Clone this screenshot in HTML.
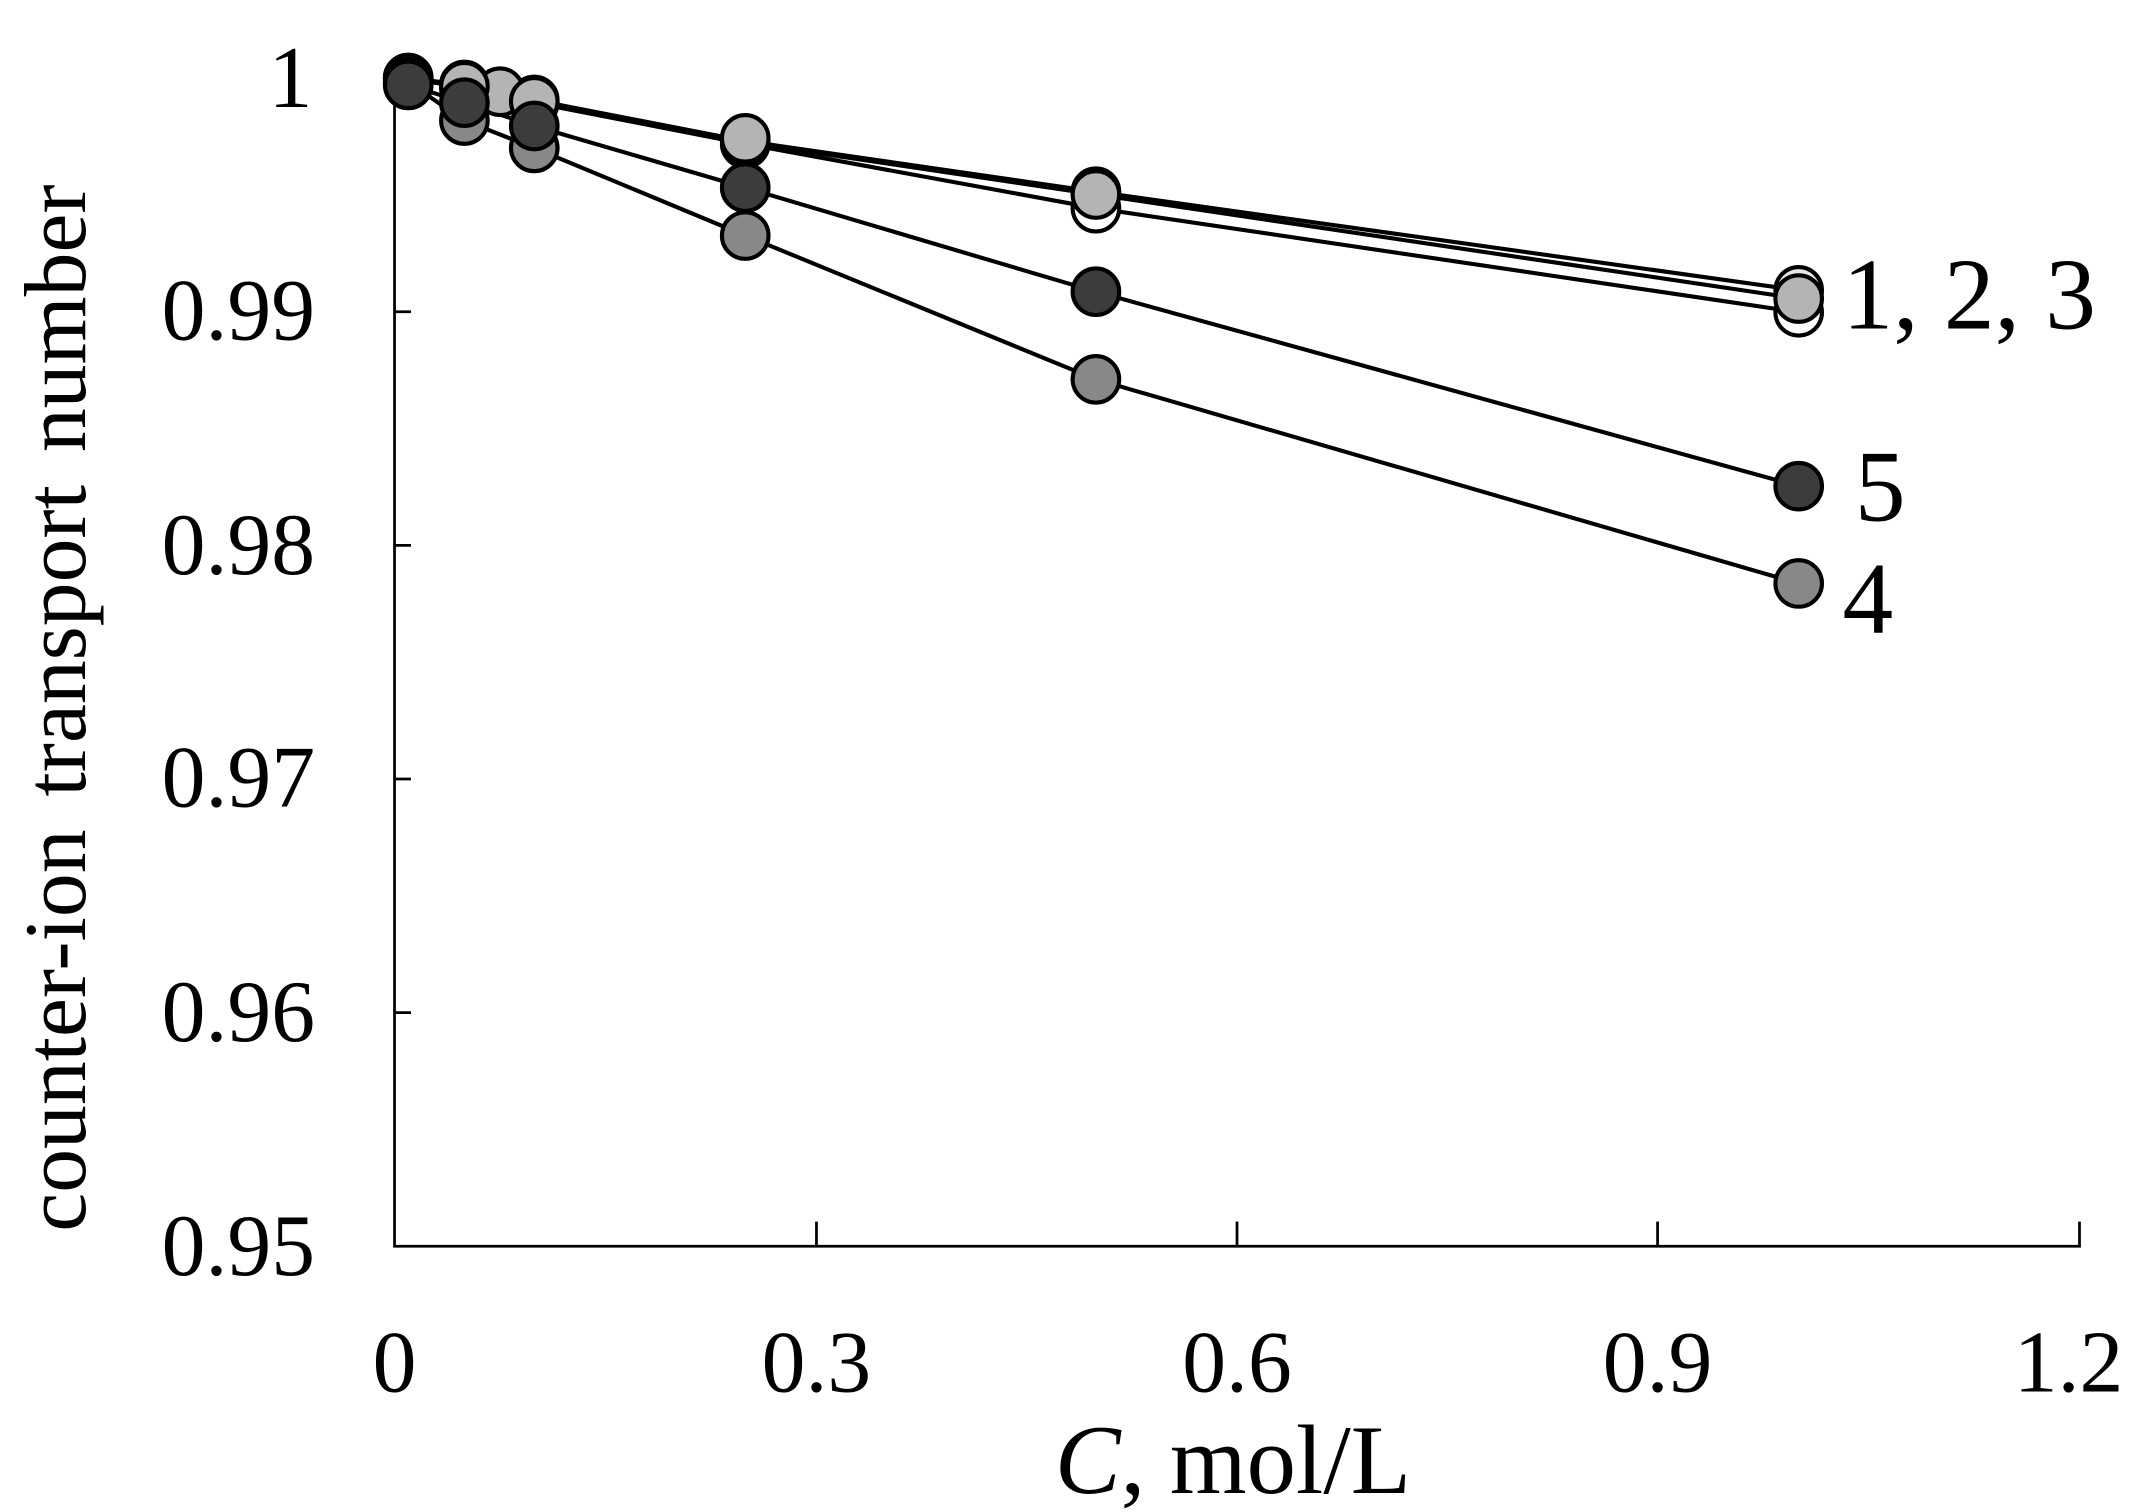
<!DOCTYPE html>
<html><head><style>html,body{margin:0;padding:0;background:#fff;}svg{display:block;}</style></head>
<body>
<svg width="2148" height="1512" viewBox="0 0 1568 1104" preserveAspectRatio="none" xmlns="http://www.w3.org/2000/svg" font-family="Liberation Serif, serif">
<rect width="1568" height="1104" fill="#fff"/>
<g stroke="#000" stroke-width="2" fill="none">
<path d="M288 57 V910 H1518 V892"/>
<path d="M596 910 V892 M903 910 V892 M1210 910 V892"/>
<path d="M288 227.6 H300 M288 398.2 H300 M288 568.8 H300 M288 739.4 H300"/>
</g>
<g font-size="64" fill="#000" text-anchor="end">
<text x="228" y="78">1</text>
<text x="230" y="248">0.99</text>
<text x="230" y="419">0.98</text>
<text x="230" y="589">0.97</text>
<text x="230" y="760">0.96</text>
<text x="230" y="931">0.95</text>
</g>
<g font-size="64" fill="#000" text-anchor="middle">
<text x="288" y="1016">0</text>
<text x="596" y="1016">0.3</text>
<text x="903" y="1016">0.6</text>
<text x="1210" y="1016">0.9</text>
<text x="1510" y="1016">1.2</text>
<text x="900" y="1090" font-size="72"><tspan font-style="italic">C</tspan>, mol/L</text>
</g>
<text transform="translate(62 517) rotate(-90)" font-size="64" text-anchor="middle" word-spacing="8">counter-ion transport number</text>
<g font-size="74" fill="#000">
<text x="1345" y="240">1, 2, 3</text>
<text x="1354" y="380">5</text>
<text x="1345" y="462">4</text>
</g>
<g stroke="#000" stroke-width="3" fill="none">
<polyline points="298,57 339,64 365,68 390,75 544,105 800,152 1313,228"/>
<polyline points="298,57 339,62 365,66 390,73 544,103 800,140 1313,212"/>
<polyline points="298,58 339,63 365,67 390,74 544,104 800,142 1313,218"/>
<polyline points="298,62 339,75 390,92 544,137 800,213 1313,355"/>
<polyline points="298,60 339,88 390,108 544,172 800,277 1313,426"/>
</g>
<g stroke="#000" stroke-width="3">
<g fill="#fff"><circle cx="298" cy="57" r="17"/><circle cx="339" cy="64" r="17"/><circle cx="390" cy="75" r="17"/><circle cx="544" cy="105" r="17"/><circle cx="800" cy="152" r="17"/><circle cx="1313" cy="228" r="17"/></g>
<g fill="#e6e6e6"><circle cx="298" cy="57" r="17"/><circle cx="339" cy="62" r="17"/><circle cx="390" cy="73" r="17"/><circle cx="544" cy="103" r="17"/><circle cx="800" cy="140" r="17"/><circle cx="1313" cy="212" r="17"/></g>
<g fill="#888"><circle cx="298" cy="60" r="17"/><circle cx="339" cy="88" r="17"/><circle cx="390" cy="108" r="17"/><circle cx="544" cy="172" r="17"/><circle cx="800" cy="277" r="17"/><circle cx="1313" cy="426" r="17"/></g>
<g fill="#b4b4b4"><circle cx="365" cy="67" r="17"/><circle cx="339" cy="63" r="17"/><circle cx="390" cy="74" r="17"/><circle cx="544" cy="101" r="17"/><circle cx="800" cy="142" r="17"/><circle cx="1313" cy="218" r="17"/></g>
<g fill="#3c3c3c"><circle cx="298" cy="62" r="17"/><circle cx="339" cy="75" r="17"/><circle cx="390" cy="92" r="17"/><circle cx="544" cy="137" r="17"/><circle cx="800" cy="213" r="17"/><circle cx="1313" cy="355" r="17"/></g>
</g>
</svg>
</body></html>
